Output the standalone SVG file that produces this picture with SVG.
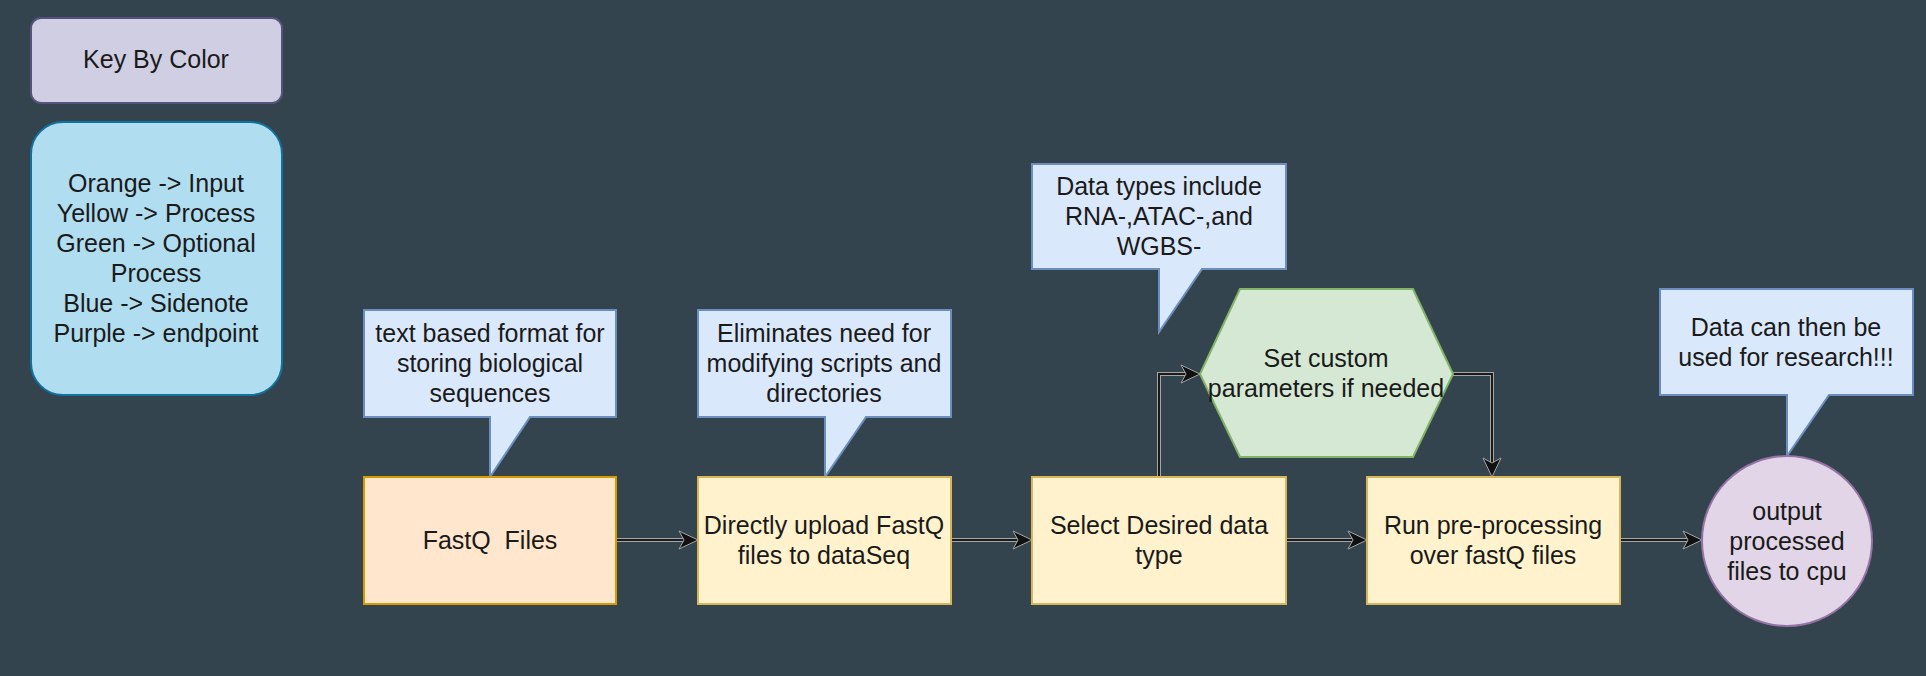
<svg xmlns="http://www.w3.org/2000/svg" width="1926" height="676" viewBox="0 0 1926 676">
<defs>
<style>
text{font-family:"Liberation Sans",Arial,sans-serif;font-size:25px;fill:#1a1a1a;text-anchor:middle;white-space:pre}
.callout{fill:#dae8fc;stroke:#6c8ebf;stroke-width:2}
.proc{fill:#fff2cc;stroke:#d6b656;stroke-width:2}
.halo{fill:none;stroke:#a6a6a6;stroke-width:4}
.edge{fill:none;stroke:#1a1a1a;stroke-width:2}
</style>
<marker id="arr" viewBox="0 0 22 22" refX="20" refY="11" markerWidth="22" markerHeight="22" markerUnits="userSpaceOnUse" orient="auto">
<path d="M1,2 L20,11 L1,20 L6,11 Z" fill="#111" stroke="#a6a6a6" stroke-width="1"/>
</marker>
</defs>
<rect width="1926" height="676" fill="#34444f"/>

<g id="key">
<rect x="31" y="18" width="251" height="85" rx="10" fill="#d0cee2" stroke="#56517e" stroke-width="2"/>
<text x="156" y="68">Key By Color</text>
</g>

<g id="legend">
<rect x="31" y="122" width="251" height="273" rx="32" fill="#b1ddf0" stroke="#10739e" stroke-width="2"/>
<text x="156" y="192">Orange -&gt; Input</text>
<text x="156" y="222">Yellow -&gt; Process</text>
<text x="156" y="252">Green -&gt; Optional</text>
<text x="156" y="282">Process</text>
<text x="156" y="312">Blue -&gt; Sidenote</text>
<text x="156" y="342">Purple -&gt; endpoint</text>
</g>

<g id="connectors">
<path class="halo" d="M616,540 H685"/>
<path class="halo" d="M951,540 H1019"/>
<path class="halo" d="M1286,540 H1354"/>
<path class="halo" d="M1620,540 H1689"/>
<path class="halo" d="M1159,477 V374 H1187"/>
<path class="halo" d="M1453,374 H1492 V464"/>
<path class="edge" d="M616,540 H698" marker-end="url(#arr)"/>
<path class="edge" d="M951,540 H1032" marker-end="url(#arr)"/>
<path class="edge" d="M1286,540 H1367" marker-end="url(#arr)"/>
<path class="edge" d="M1620,540 H1702" marker-end="url(#arr)"/>
<path class="edge" d="M1159,477 V374 H1200" marker-end="url(#arr)"/>
<path class="edge" d="M1453,374 H1492 V477" marker-end="url(#arr)"/>
</g>

<g id="note1">
<path class="callout" d="M364,310 H616 V417 H530 L490,477 V417 H364 Z"/>
<text x="490" y="342">text based format for</text>
<text x="490" y="372">storing biological</text>
<text x="490" y="402">sequences</text>
</g>

<g id="note2">
<path class="callout" d="M698,310 H951 V417 H866 L825,477 V417 H698 Z"/>
<text x="824" y="342">Eliminates need for</text>
<text x="824" y="372">modifying scripts and</text>
<text x="824" y="402">directories</text>
</g>

<g id="note3">
<path class="callout" d="M1032,164 H1286 V269 H1202 L1159,332 V269 H1032 Z"/>
<text x="1159" y="195">Data types include</text>
<text x="1159" y="225">RNA-,ATAC-,and</text>
<text x="1159" y="255">WGBS-</text>
</g>

<g id="note4">
<path class="callout" d="M1660,289 H1913 V395 H1829 L1787,456 V395 H1660 Z"/>
<text x="1786" y="336">Data can then be</text>
<text x="1786" y="366">used for research!!!</text>
</g>

<g id="fastq">
<rect x="364" y="477" width="252" height="127" fill="#ffe6cc" stroke="#d79b00" stroke-width="2"/>
<text x="490" y="549">FastQ  Files</text>
</g>

<g id="upload">
<rect class="proc" x="698" y="477" width="253" height="127"/>
<text x="824" y="534">Directly upload FastQ</text>
<text x="824" y="564">files to dataSeq</text>
</g>

<g id="select">
<rect class="proc" x="1032" y="477" width="254" height="127"/>
<text x="1159" y="534">Select Desired data</text>
<text x="1159" y="564">type</text>
</g>

<g id="custom">
<polygon points="1240,289 1413,289 1453,374 1413,457 1240,457 1200,374" fill="#d5e8d4" stroke="#82b366" stroke-width="2"/>
<text x="1326" y="367">Set custom</text>
<text x="1326" y="397">parameters if needed</text>
</g>

<g id="run">
<rect class="proc" x="1367" y="477" width="253" height="127"/>
<text x="1493" y="534">Run pre-processing</text>
<text x="1493" y="564">over fastQ files</text>
</g>

<g id="output">
<circle cx="1787" cy="541" r="85" fill="#e1d5e7" stroke="#9673a6" stroke-width="2"/>
<text x="1787" y="520">output</text>
<text x="1787" y="550">processed</text>
<text x="1787" y="580">files to cpu</text>
</g>
</svg>
